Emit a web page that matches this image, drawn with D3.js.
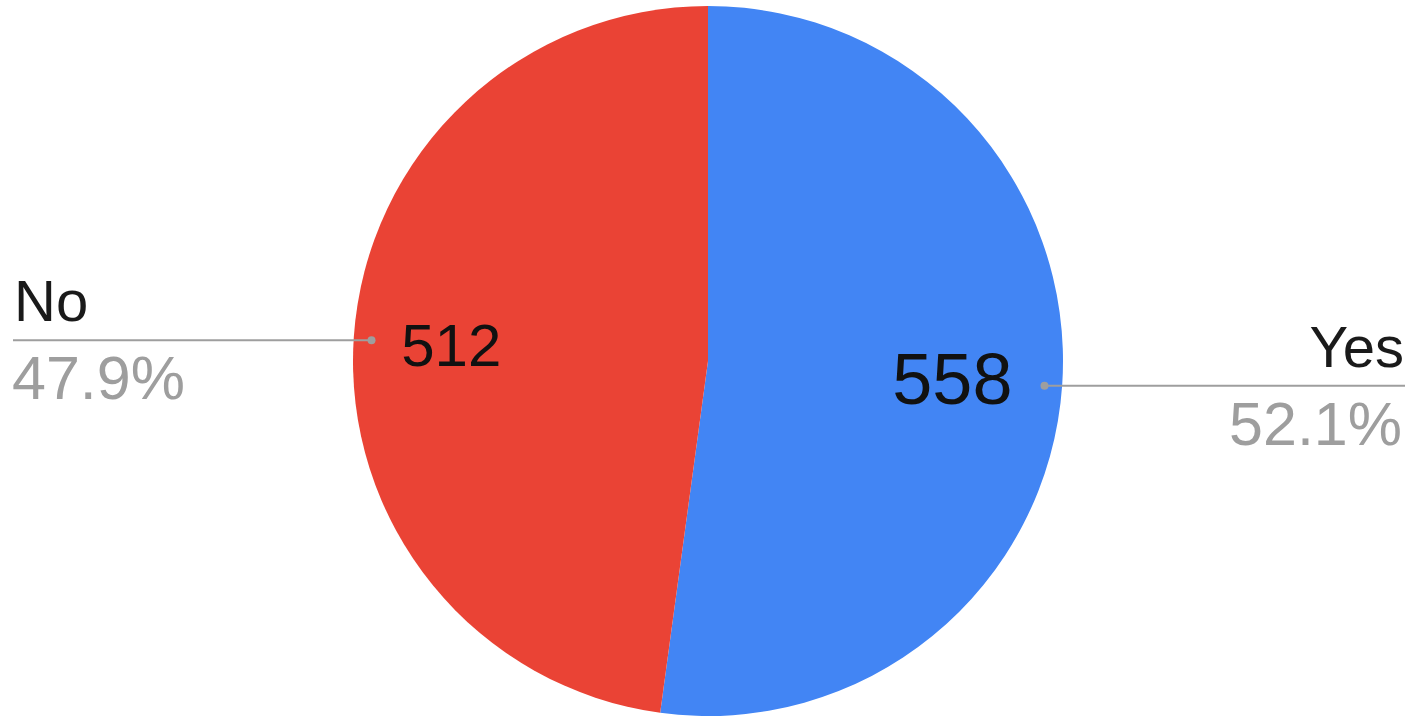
<!DOCTYPE html>
<html>
<head>
<meta charset="utf-8">
<script src="https://cdn.jsdelivr.net/npm/d3@7"></script>
<style>
  html, body { margin: 0; padding: 0; background: #fff; }
  svg { display: block; }
  text { font-family: "Liberation Sans", Arial, sans-serif; }
</style>
</head>
<body>
<svg id="chart" width="1412" height="719"></svg>
<script>
// Data
const categories = ["Yes", "No"];
const values = [558, 512];
const colors = ["#4285F4", "#EA4335"];

const W = 1412, H = 719;
const cx = 708, cy = 361, R = 355;

const svg = d3.select("#chart");
const g = svg.append("g").attr("transform", `translate(${cx},${cy})`);

const total = d3.sum(values);
const data = categories.map((c, i) => ({ cat: c, value: values[i], color: colors[i] }));

const pie = d3.pie().value(d => d.value).sort(null);
const arcs = pie(data);

const arc = d3.arc().innerRadius(0).outerRadius(R);

g.selectAll("path.slice")
  .data(arcs)
  .join("path")
  .attr("class", "slice")
  .attr("d", arc)
  .attr("fill", d => d.data.color);

// interior value labels
const labelCfg = { Yes: { r: 0.69, size: 72 }, No: { r: 0.725, size: 60 } };
g.selectAll("text.val")
  .data(arcs)
  .join("text")
  .attr("class", "val")
  .attr("transform", d => {
    const a = (d.startAngle + d.endAngle) / 2;
    const r = R * labelCfg[d.data.cat].r;
    return `translate(${r * Math.sin(a)},${-r * Math.cos(a) + 1})`;
  })
  .attr("text-anchor", "middle")
  .attr("dy", "0.36em")
  .attr("font-size", d => labelCfg[d.data.cat].size)
  .attr("fill", "#111")
  .text(d => d.data.value);

// leader lines + outside labels
const fmt = d3.format(".1f");
arcs.forEach(d => {
  const a = (d.startAngle + d.endAngle) / 2;
  const r = R * 0.95;
  const px = cx + r * Math.sin(a);
  const py = cy - r * Math.cos(a) + 2;
  const right = Math.sin(a) > 0;
  const ex = right ? 1405 : 13;
  svg.append("line")
    .attr("x1", px).attr("y1", py).attr("x2", ex).attr("y2", py)
    .attr("stroke", "#9e9e9e").attr("stroke-width", 2);
  svg.append("circle")
    .attr("cx", px).attr("cy", py).attr("r", 4)
    .attr("fill", "#9e9e9e");
  const tx = right ? 1404 : 14;
  const anchor = right ? "end" : "start";
  svg.append("text")
    .attr("x", tx).attr("y", py - 19)
    .attr("text-anchor", anchor)
    .attr("font-size", 58)
    .attr("fill", "#1a1a1a")
    .text(d.data.cat);
  svg.append("text")
    .attr("x", right ? 1402 : 12).attr("y", py + 59)
    .attr("text-anchor", anchor)
    .attr("font-size", 61)
    .attr("fill", "#9e9e9e")
    .text(fmt(d.data.value / total * 100) + "%");
});
</script>
</body>
</html>
